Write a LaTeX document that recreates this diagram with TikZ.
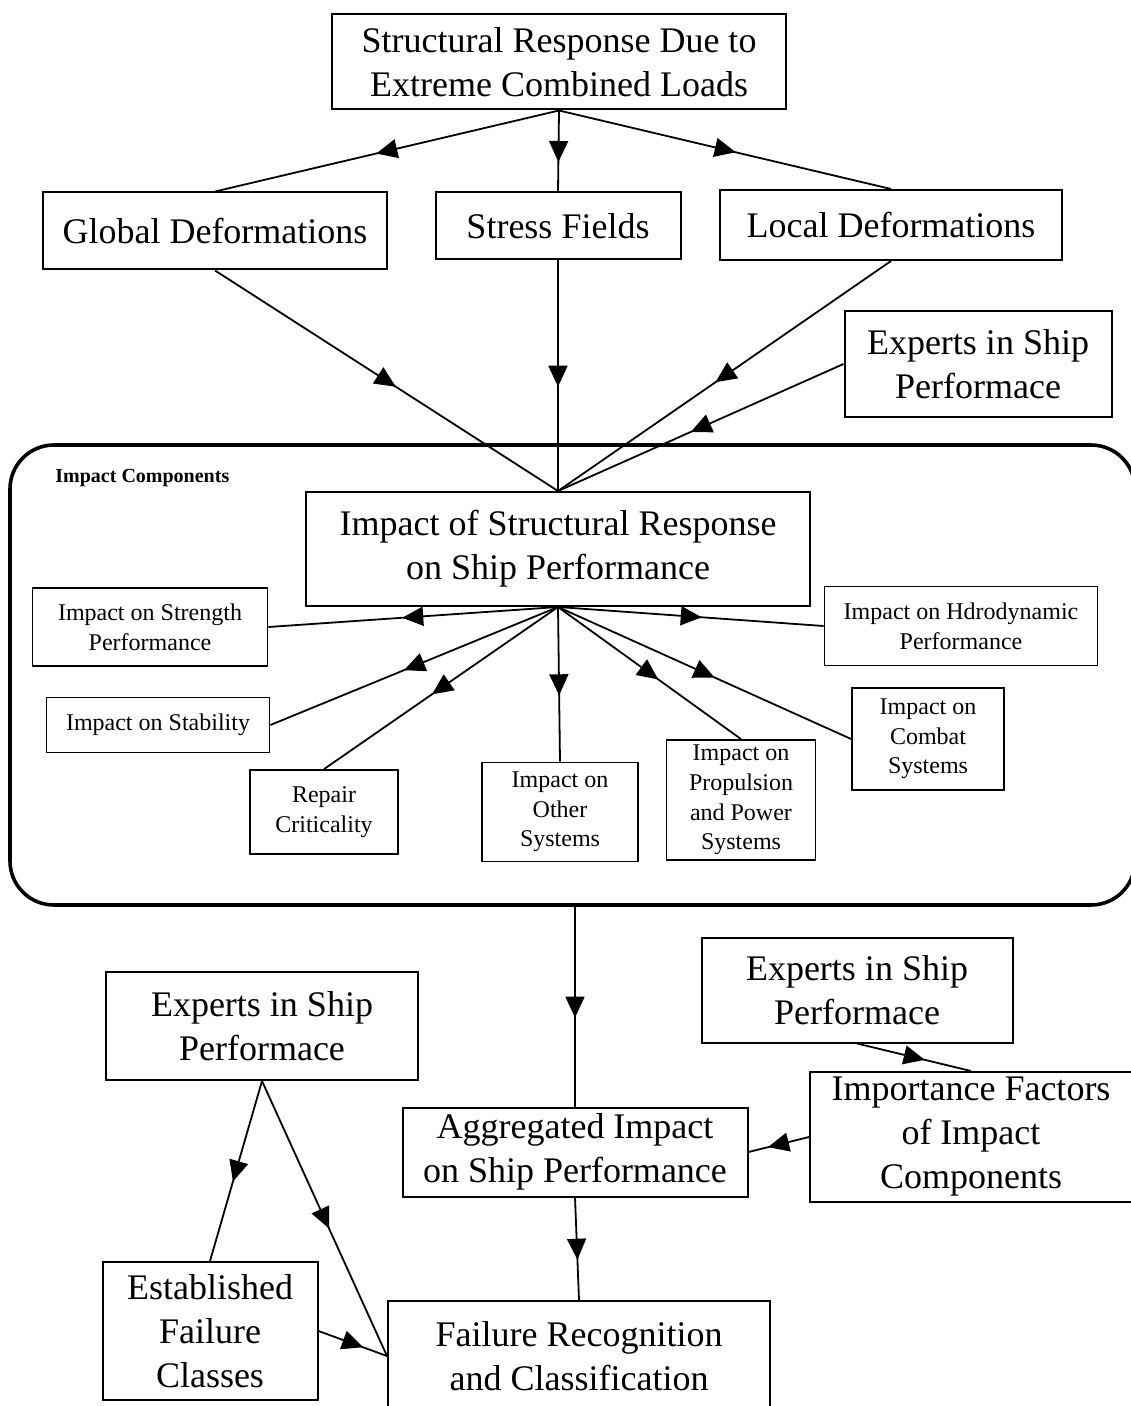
\documentclass[tikz,border=0pt]{standalone}
\usepackage{fontspec}
\setmainfont{Liberation Serif}
\usetikzlibrary{arrows.meta,decorations.markings}

\begin{document}
\begin{tikzpicture}[x=0.5pt,y=-0.5pt,
    bigbox/.style={draw,line width=1pt,align=center,inner sep=0pt,font=\fontsize{18}{22}\selectfont},
    smallbox/.style={draw,line width=0.9pt,align=center,inner sep=0pt,font=\fontsize{12}{14.8}\selectfont},
    groupbox/.style={draw,line width=1.8pt,rounded corners=22pt,inner sep=0pt},
    flow/.style={line width=0.9pt,postaction=decorate,
      decoration={markings,mark=at position 0.5 with {\arrow[xshift=5.5pt]{Triangle[length=10.5pt,width=9.5pt]}}}}]
    \useasboundingbox (0,0) rectangle (1130,1406);
    % top level
    \node[bigbox,minimum width=227pt,minimum height=47.5pt] at (559,62) (resp) {Structural Response Due to\\Extreme Combined Loads};
    \node[bigbox,minimum width=172pt,minimum height=38.5pt] at (215,231) (glob) {Global Deformations};
    \node[bigbox,minimum width=122.5pt,minimum height=33.5pt] at (558,226) (stress) {Stress Fields};
    \node[bigbox,minimum width=171pt,minimum height=35pt] at (891,225) (loc) {Local Deformations};
    \node[bigbox,minimum width=133.5pt,minimum height=53pt] at (978,364) (expa) {Experts in Ship\\Performace};
    % impact components
    \node[groupbox,minimum width=562.5pt,minimum height=230pt] at (572.5,675) (grp) {};
    \node[anchor=west,inner sep=0pt,font=\bfseries\fontsize{10}{11}\selectfont] at (55,478) (grplabel) {Impact Components};
    \node[bigbox,minimum width=252pt,minimum height=57pt] at (558,549) (impact) {Impact of Structural Response\\on Ship Performance};
    \node[smallbox,minimum width=117.5pt,minimum height=39pt] at (150,627) (strength) {Impact on Strength\\Performance};
    \node[smallbox,minimum width=136.5pt,minimum height=39.5pt] at (961,626) (hydro) {Impact on Hdrodynamic\\Performance};
    \node[smallbox,minimum width=111.5pt,minimum height=27.5pt] at (158,725) (stab) {Impact on Stability};
    \node[smallbox,minimum width=74pt,minimum height=42pt] at (324,812) (repair) {Repair\\Criticality};
    \node[smallbox,minimum width=78pt,minimum height=49.5pt] at (560,812) (other) {Impact on\\Other\\Systems};
    \node[smallbox,minimum width=74.5pt,minimum height=60pt] at (741,800) (prop) {Impact on\\Propulsion\\and Power\\Systems};
    \node[smallbox,minimum width=76pt,minimum height=51pt] at (928,739) (combat) {Impact on\\Combat\\Systems};
    % lower part
    \node[bigbox,minimum width=155.5pt,minimum height=52.5pt] at (857,990) (expb) {Experts in Ship\\Performace};
    \node[bigbox,minimum width=156pt,minimum height=54pt] at (262,1026) (expc) {Experts in Ship\\Performace};
    \node[bigbox,minimum width=161pt,minimum height=65pt] at (971,1137) (factors) {Importance Factors\\of Impact\\Components};
    \node[bigbox,minimum width=172.5pt,minimum height=44.5pt] at (575,1152) (aggr) {Aggregated Impact\\on Ship Performance};
    \node[bigbox,minimum width=107.5pt,minimum height=69pt] at (210,1331) (classes) {Established\\Failure\\Classes};
    \node[bigbox,minimum width=191pt,minimum height=55pt] at (579,1356) (fail) {Failure Recognition\\and Classification};
    % connectors
    \draw[flow] (resp.south) -- (glob.north);
    \draw[flow] (resp.south) -- (stress.north);
    \draw[flow] (resp.south) -- (loc.north);
    \draw[flow] (glob.south) -- (impact.north);
    \draw[flow] (stress.south) -- (impact.north);
    \draw[flow] (loc.south) -- (impact.north);
    \draw[flow] (expa.west) -- (impact.north);
    \draw[flow] (impact.south) -- (strength.east);
    \draw[flow] (impact.south) -- (hydro.west);
    \draw[flow] (impact.south) -- (stab.east);
    \draw[flow] (impact.south) -- (repair.north);
    \draw[flow] (impact.south) -- (other.north);
    \draw[flow] (impact.south) -- (prop.north);
    \draw[flow] (impact.south) -- (combat.west);
    \draw[flow] (aggr.north |- grp.south) -- (aggr.north);
    \draw[flow] (expb.south) -- (factors.north);
    \draw[flow] (factors.west) -- (aggr.east);
    \draw[flow] (aggr.south) -- (fail.north);
    \draw[flow] (expc.south) -- (classes.north);
    \draw[flow] (expc.south) -- (fail.west);
    \draw[flow] (classes.east) -- (fail.west);
\end{tikzpicture}
\end{document}
